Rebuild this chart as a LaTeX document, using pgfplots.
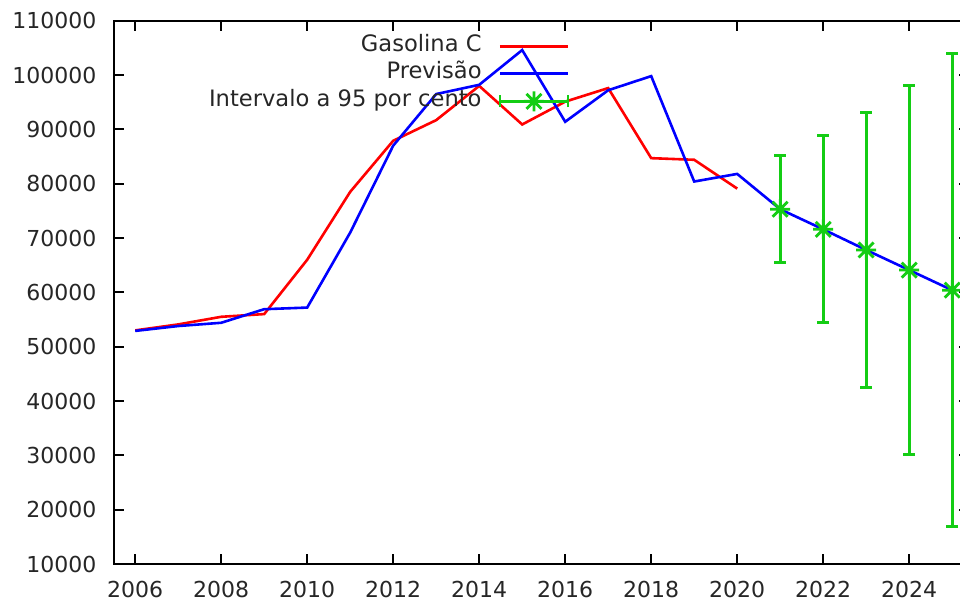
\documentclass[border=0pt]{standalone}
\usepackage{pgfplots}
\usepackage{pgfplotstable}
\pgfplotsset{compat=1.18}
\usepackage{fontspec}
\setmainfont{DejaVu Sans}

\definecolor{gpred}{RGB}{255,0,0}
\definecolor{gpblue}{RGB}{0,0,255}
\definecolor{gpgreen}{RGB}{20,205,20}

% gnuplot-style asterisk: a plus overlaid with a cross
\pgfdeclareplotmark{gpstar}{%
  \pgfpathmoveto{\pgfqpoint{-\pgfplotmarksize}{0pt}}%
  \pgfpathlineto{\pgfqpoint{\pgfplotmarksize}{0pt}}%
  \pgfpathmoveto{\pgfqpoint{0pt}{-\pgfplotmarksize}}%
  \pgfpathlineto{\pgfqpoint{0pt}{\pgfplotmarksize}}%
  \pgfpathmoveto{\pgfqpoint{-.75\pgfplotmarksize}{-.75\pgfplotmarksize}}%
  \pgfpathlineto{\pgfqpoint{.75\pgfplotmarksize}{.75\pgfplotmarksize}}%
  \pgfpathmoveto{\pgfqpoint{-.75\pgfplotmarksize}{.75\pgfplotmarksize}}%
  \pgfpathlineto{\pgfqpoint{.75\pgfplotmarksize}{-.75\pgfplotmarksize}}%
  \pgfusepathqstroke}

% observed sales
\pgfplotstableread{
ano valor
2006 53000
2007 54100
2008 55500
2009 56000
2010 66000
2011 78500
2012 87900
2013 91700
2014 98000
2015 90900
2016 95100
2017 97600
2018 84700
2019 84400
2020 79100
}\gasolina

% fitted values and forecast
\pgfplotstableread{
ano valor
2006 52900
2007 53800
2008 54400
2009 56900
2010 57200
2011 71000
2012 87000
2013 96500
2014 98200
2015 104600
2016 91400
2017 97200
2018 99800
2019 80400
2020 81800
2021 75300
2022 71600
2023 67800
2024 64100
2025 60400
}\previsao

% forecast with 95% interval half-width
\pgfplotstableread{
ano valor erro
2021 75300 9850
2022 71600 17200
2023 67800 25300
2024 64100 33950
2025 60400 43500
}\intervalo

\begin{document}
\begin{tikzpicture}
\begin{axis}[
  scale only axis,
  width=427.85pt, height=271.65pt,
  at={(0pt,0pt)}, anchor=south west,
  xmin=2005.5, xmax=2025.4,
  ymin=10000, ymax=110000,
  xtick={2006,2008,...,2024},
  ytick={10000,20000,...,110000},
  scaled ticks=false,
  /pgf/number format/fixed,
  /pgf/number format/precision=0,
  /pgf/number format/1000 sep={},
  /pgf/number format/assume math mode=true,
  tick align=inside,
  major tick length=5pt,
  tick style={black, line width=0.9pt},
  axis line style={black, line width=0.9pt},
  every tick label/.append style={font=\fontsize{11}{13}\selectfont, text=black!85},
  yticklabel style={inner sep=0pt, xshift=-8.5pt},
  xticklabel style={inner sep=0pt, yshift=-8.3pt},
  legend cell align=right,
  legend plot pos=right,
  legend style={
    at={(0.540,0.980)}, anchor=north east,
    draw=none, fill=none,
    font=\fontsize{11.3}{13}\selectfont, text=black!85,
    row sep=3pt, column sep=8.5pt,
    nodes={inner sep=0pt, text height=8pt, text depth=2.5pt},
  },
]
\addplot[gpred, line width=1.3pt, mark=none,
  legend image code/.code={\draw[gpred, line width=1.3pt] (0pt,0pt) -- (34pt,0pt);}]
  table[x=ano, y=valor] {\gasolina};
\addlegendentry{Gasolina C}

\addplot[gpblue, line width=1.3pt, mark=none,
  legend image code/.code={\draw[gpblue, line width=1.3pt] (0pt,0pt) -- (34pt,0pt);}]
  table[x=ano, y=valor] {\previsao};
\addlegendentry{Previsão}

\addplot[gpgreen, line width=1.4pt, only marks, mark=gpstar, mark size=5pt,
  error bars/.cd, y dir=both, y explicit,
  error bar style={gpgreen, line width=1.4pt},
  error mark options={gpgreen, line width=1.4pt, mark size=3pt, rotate=90},
  /pgfplots/legend image code/.code={
    \draw[gpgreen, line width=1.4pt] (0pt,0pt) -- (34pt,0pt);
    \draw[gpgreen, line width=1.4pt] (0pt,-3pt) -- (0pt,3pt);
    \draw[gpgreen, line width=1.4pt] (34pt,-3pt) -- (34pt,3pt);
    \draw[gpgreen, line width=1.4pt] (12pt,0pt) -- (22pt,0pt)
      (17pt,-5pt) -- (17pt,5pt)
      (13.25pt,-3.75pt) -- (20.75pt,3.75pt)
      (13.25pt,3.75pt) -- (20.75pt,-3.75pt);
  }]
  table[x=ano, y=valor, y error=erro] {\intervalo};
\addlegendentry{Intervalo a 95 por cento}
\end{axis}
\pgfresetboundingbox
\useasboundingbox (-56.85pt,-19pt) rectangle (423.15pt,282pt);
\end{tikzpicture}
\end{document}
